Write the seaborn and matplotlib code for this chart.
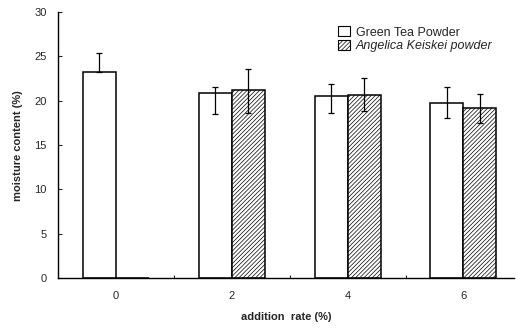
import matplotlib
matplotlib.use("Agg")
import matplotlib.pyplot as plt
import seaborn as sns
import pandas as pd
import numpy as np
from matplotlib.patches import Patch

rates = ["0", "2", "4", "6"]
green_tea = [23.2, 20.9, 20.5, 19.7]
green_tea_err_up = [2.2, 0.7, 1.4, 1.9]
green_tea_err_dn = [0.0, 2.4, 1.9, 1.6]
angelica = [0.0, 21.2, 20.7, 19.2]
angelica_err_up = [0.0, 2.4, 1.9, 1.6]
angelica_err_dn = [0.0, 2.6, 1.9, 1.65]
series = ["Green Tea Powder", "Angelica Keiskei powder"]

sns.set_style("white")
plt.rcParams["font.family"] = ["Liberation Sans", "DejaVu Sans"]
plt.rcParams["hatch.linewidth"] = 0.5

df = pd.DataFrame({
    "rate": rates * 2,
    "value": green_tea + angelica,
    "series": [series[0]] * 4 + [series[1]] * 4,
})

fig = plt.figure(figsize=(5.16, 3.28), dpi=100)
ax = fig.add_axes([0.112, 0.152, 0.885, 0.811])
width = 0.57
sns.barplot(data=df, x="rate", y="value", hue="series", order=rates,
            hue_order=series, width=width, errorbar=None, ax=ax,
            palette=["white", "white"], edgecolor="black", linewidth=1.1,
            legend=False)

n = len(rates)
for i, p in enumerate(ax.patches[:2 * n]):
    if i >= n:
        p.set_hatch("////////")

xs = np.arange(n)
off = width / 4
ax.errorbar(xs - off, green_tea, yerr=[green_tea_err_dn, green_tea_err_up],
            fmt="none", ecolor="black", elinewidth=0.9, capsize=2.5, capthick=0.9)
ax.errorbar(xs[1:] + off, angelica[1:], yerr=[angelica_err_dn[1:], angelica_err_up[1:]],
            fmt="none", ecolor="black", elinewidth=0.9, capsize=2.5, capthick=0.9)

ax.set_ylim(0, 30)
ax.set_xlim(-0.5, 3.44)
ax.set_yticks([0, 5, 10, 15, 20, 25, 30])
ax.set_xticks(xs)
ax.set_xticklabels(rates)
ax.set_xticks(xs[:-1] + 0.5, minor=True)
ax.tick_params(axis="x", which="major", length=0, pad=9, labelsize=8)
ax.tick_params(axis="x", which="minor", direction="in", length=2, width=0.8, bottom=True)
ax.tick_params(axis="y", direction="in", length=3, width=0.8, labelsize=8, pad=8, left=True)
for s in ["top", "right"]:
    ax.spines[s].set_visible(False)
for s in ["left", "bottom"]:
    ax.spines[s].set_linewidth(1.0)
    ax.spines[s].set_color("black")

ax.set_xlabel("addition  rate (%)", fontsize=8, fontweight="bold", labelpad=8)
ax.set_ylabel("moisture content (%)", fontsize=8, fontweight="bold", labelpad=8)

handles = [Patch(facecolor="white", edgecolor="black", linewidth=0.8),
           Patch(facecolor="white", edgecolor="black", hatch="////////", linewidth=0.8)]
leg = ax.legend(handles, series, loc="upper left", bbox_to_anchor=(0.59, 0.99),
                frameon=False, fontsize=9, handlelength=0.9, handleheight=0.9,
                handletextpad=0.5, labelspacing=0.1)
leg.get_texts()[1].set_style("italic")

fig.savefig("out.png", dpi=100)
